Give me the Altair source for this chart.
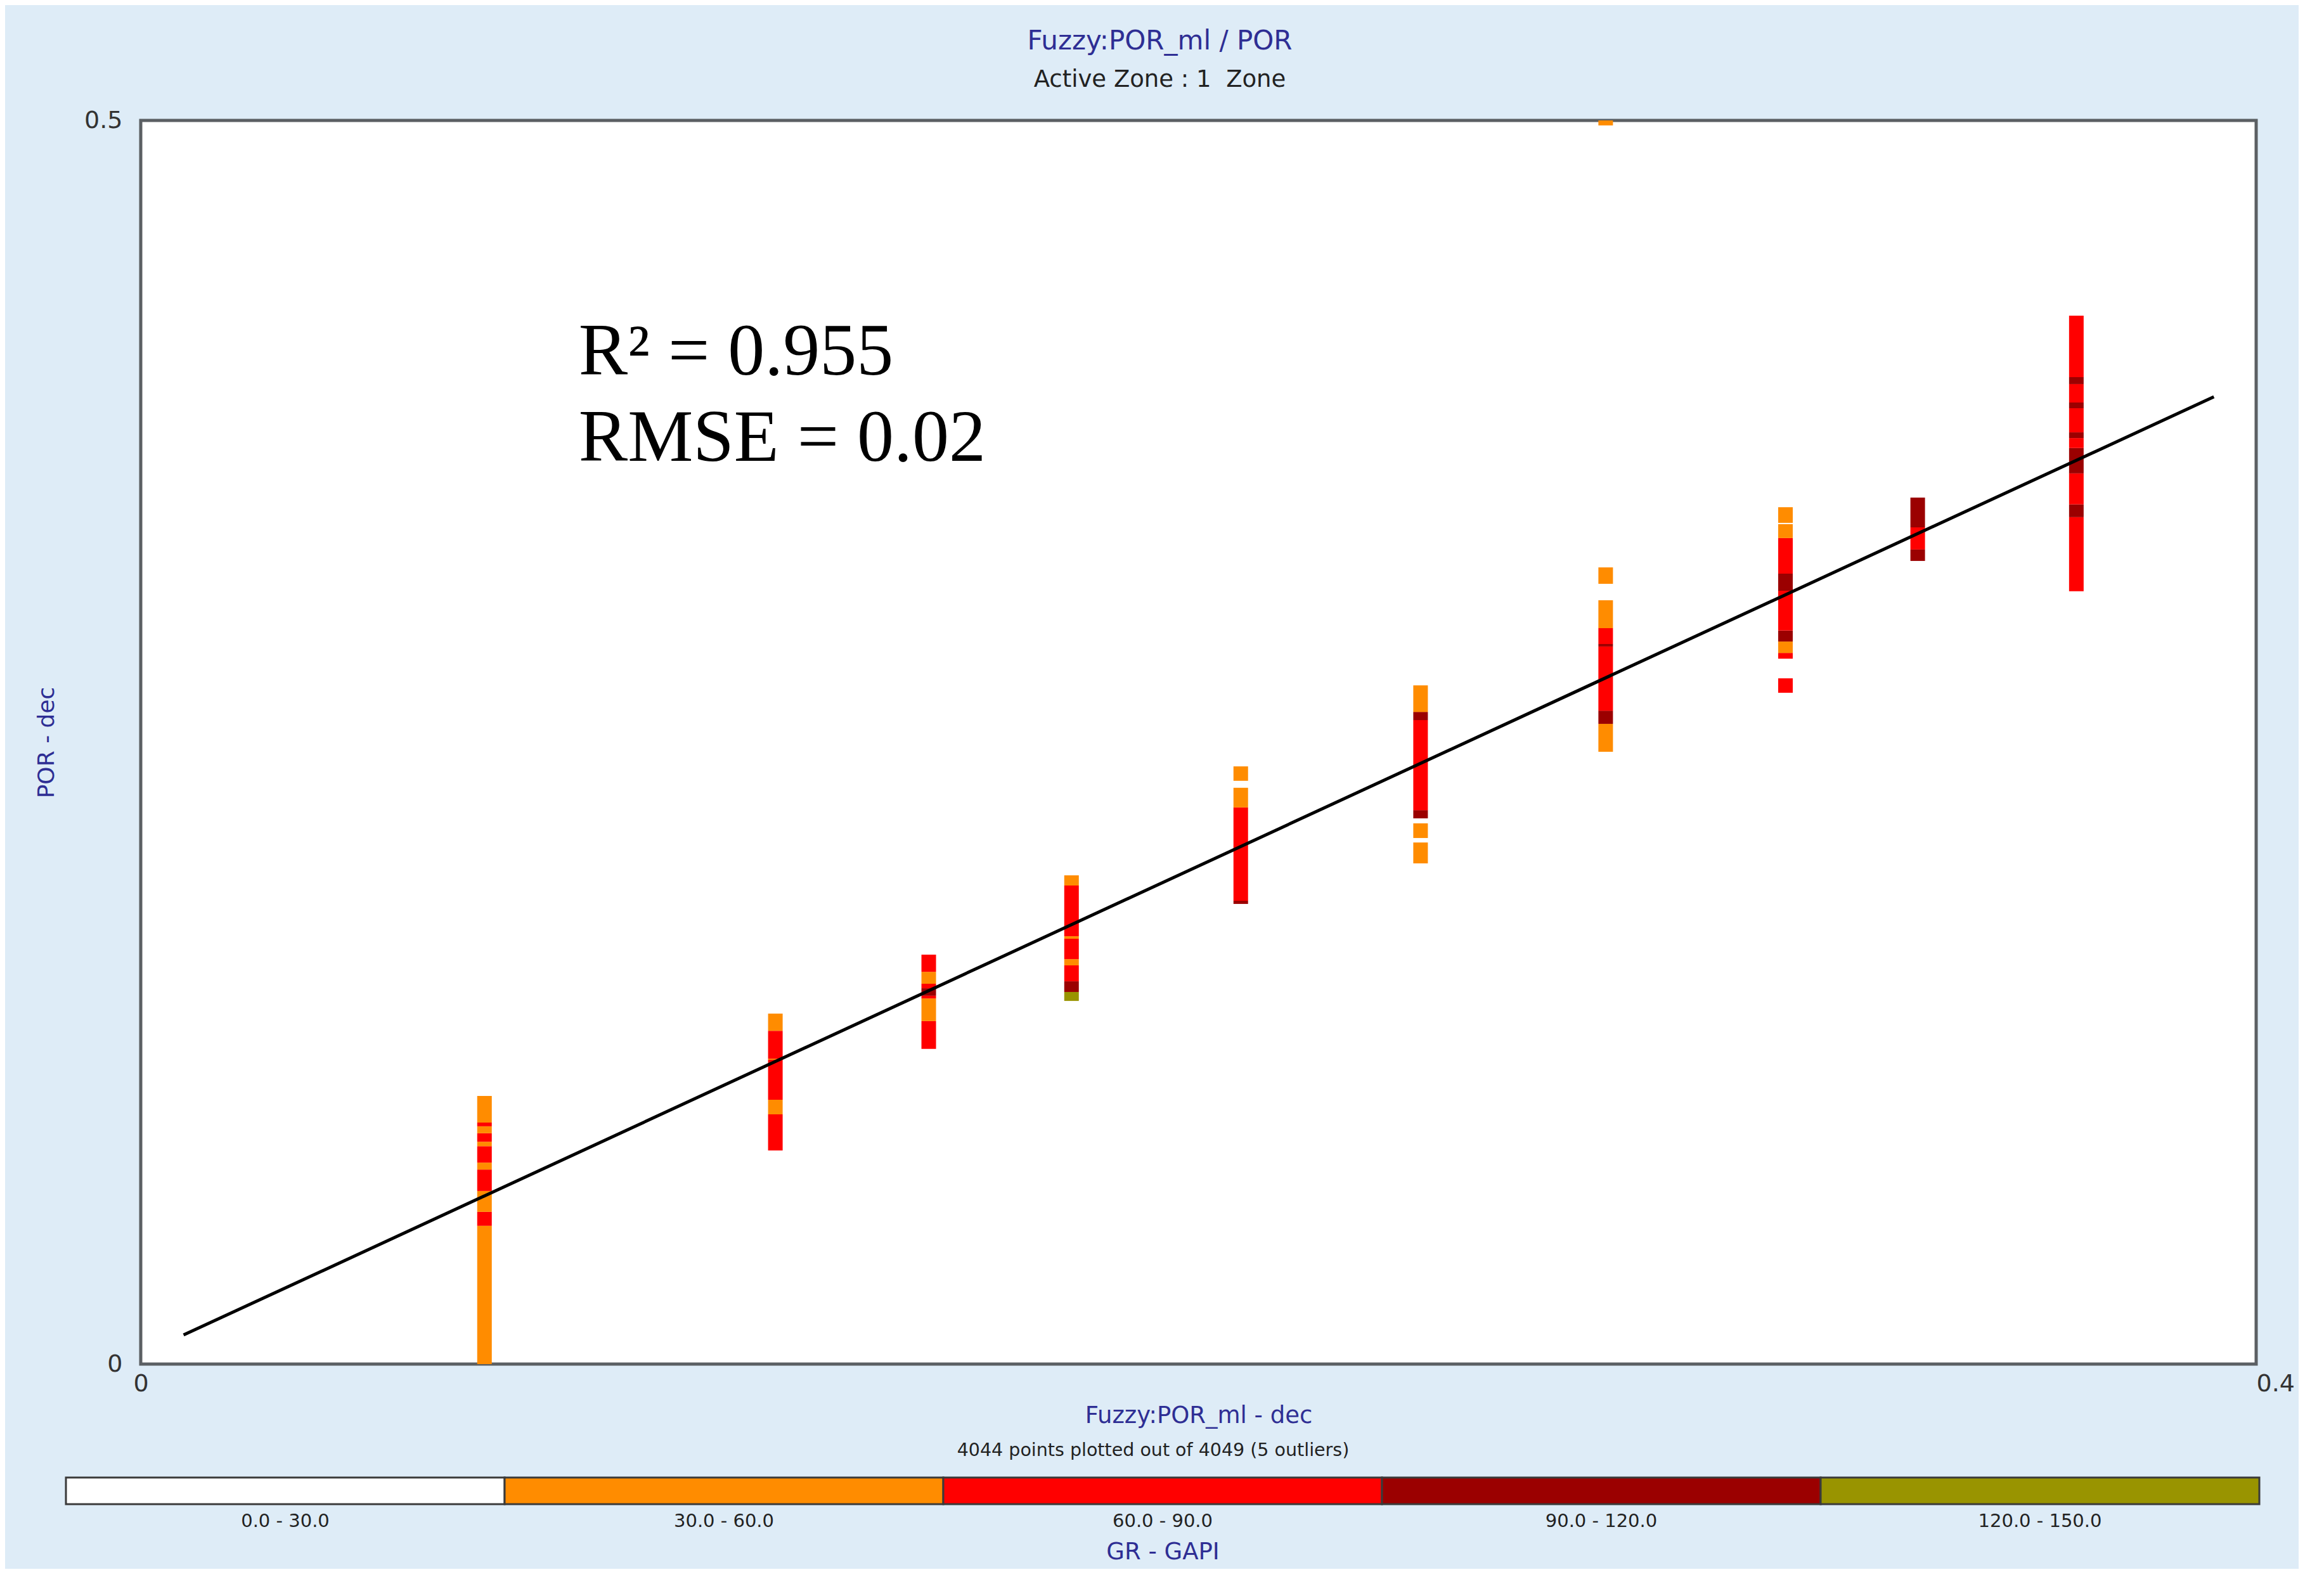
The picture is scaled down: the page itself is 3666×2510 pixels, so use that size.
import altair as alt
import pandas as pd

# ---- GR classes (colour legend) ----
gr_labels = ["0.0 - 30.0", "30.0 - 60.0", "60.0 - 90.0", "90.0 - 120.0", "120.0 - 150.0"]
gr_colors = ["#ffffff", "#ff8c00", "#ff0000", "#9b0000", "#999400"]
O, R, D, G = gr_labels[1], gr_labels[2], gr_labels[3], gr_labels[4]

# ---- x position (Fuzzy:POR_ml) of each column of points ----
col_x = [0.065, 0.120, 0.149, 0.176, 0.208, 0.242, 0.277, 0.311, 0.336, 0.366]

# ---- POR runs in each column: (low, high, GR class) ----
col1 = [(0.0, 0.0556, O), (0.0556, 0.0612, R), (0.0612, 0.0696, O), (0.0696, 0.0782, R),
        (0.0782, 0.0810, O), (0.0810, 0.0876, R), (0.0876, 0.0894, O), (0.0894, 0.0928, R),
        (0.0928, 0.0956, O), (0.0956, 0.0971, R), (0.0971, 0.1078, O)]
col2 = [(0.0859, 0.1004, R), (0.1004, 0.1063, O), (0.1063, 0.1223, R), (0.1223, 0.1228, O),
        (0.1228, 0.1340, R), (0.1340, 0.1409, O)]
col3 = [(0.1267, 0.1379, R), (0.1379, 0.1470, O), (0.1470, 0.1481, R), (0.1481, 0.1511, D),
        (0.1511, 0.1529, R), (0.1529, 0.1577, O), (0.1577, 0.1646, R)]
col4 = [(0.1460, 0.1496, G), (0.1496, 0.1539, D), (0.1539, 0.1603, R), (0.1603, 0.1628, O),
        (0.1628, 0.1710, R), (0.1710, 0.1720, O), (0.1720, 0.1924, R), (0.1924, 0.1965, O)]
col5 = [(0.1850, 0.1863, D), (0.1863, 0.2238, R), (0.2238, 0.2317, O), (0.2345, 0.2403, O)]
col6 = [(0.2013, 0.2097, O), (0.2115, 0.2174, O), (0.2194, 0.2227, D), (0.2227, 0.2589, R),
        (0.2589, 0.2622, D), (0.2622, 0.2729, O)]
col7 = [(0.2462, 0.2574, O), (0.2574, 0.2627, D), (0.2627, 0.2885, R), (0.2885, 0.2895, D),
        (0.2895, 0.2959, R), (0.2959, 0.3071, O), (0.3137, 0.3203, O), (0.4980, 0.5000, O)]
col8 = [(0.2699, 0.2757, R), (0.2836, 0.2859, R), (0.2859, 0.2905, O), (0.2905, 0.2949, D),
        (0.2949, 0.3109, R), (0.3109, 0.3178, D), (0.3178, 0.3321, R), (0.3321, 0.3377, O),
        (0.3382, 0.3445, O)]
col9 = [(0.3229, 0.3275, D), (0.3275, 0.3364, R), (0.3364, 0.3484, D)]
col10 = [(0.3107, 0.3405, R), (0.3405, 0.3456, D), (0.3456, 0.3581, R), (0.3581, 0.3683, D),
         (0.3683, 0.3723, R), (0.3723, 0.3746, D), (0.3746, 0.3843, R), (0.3843, 0.3866, D),
         (0.3866, 0.3940, R), (0.3940, 0.3968, D), (0.3968, 0.4215, R)]
columns = [col1, col2, col3, col4, col5, col6, col7, col8, col9, col10]

# ---- axis extents (plot frame) ----
frame_x = [0.0, 0.4]
frame_y = [0.0, 0.5]

# ---- fitted line end points ----
line_x = [0.0081, 0.3920]
line_y = [0.0117, 0.3889]

# ---- statistics annotation ----
ann_text = ["R\u00b2 = 0.955", "RMSE = 0.02"]
ann_x = [0.0828, 0.0828]
ann_y = [0.3978, 0.3631]

# ---- titles ----
title_main = "Fuzzy:POR_ml / POR"
title_sub = "Active Zone : 1\u00a0 Zone"
x_title = "Fuzzy:POR_ml - dec"
y_title = "POR - dec"
foot_text = "4044 points plotted out of 4049 (5 outliers)"
legend_title = "GR - GAPI"

rows = []
for cx, segs in zip(col_x, columns):
    for lo, hi, g in segs:
        rows.append({"x": cx, "lo": lo, "hi": hi, "gr": g})
seg_df = pd.DataFrame(rows)
frame_df = pd.DataFrame({"x": [frame_x[0]], "x2": [frame_x[1]], "y": [frame_y[0]], "y2": [frame_y[1]]})
line_df = pd.DataFrame({"x": line_x, "y": line_y})
ann_df = pd.DataFrame({"x": ann_x, "y": ann_y, "t": ann_text})
leg_df = pd.DataFrame({"gr": gr_labels})

navy = "#2e2e94"
font = "DejaVu Sans"
W = 3460          # common panel width (colour bar width)
LEFT = 113        # plot area starts this far right of the colour bar
color_scale = alt.Scale(domain=gr_labels, range=gr_colors)
xscale = alt.Scale(domain=frame_x, range=[LEFT, W], nice=False, zero=False)
yscale = alt.Scale(domain=frame_y, nice=False, zero=False)

x_axis = alt.Axis(
    title=x_title, values=frame_x, format="~g", grid=False, domain=False, ticks=False,
    labelFlush=False, labelFontSize=38, labelColor="#333333", labelPadding=12,
    labelAlign={"condition": {"test": "datum.value == 0", "value": "center"}, "value": "left"},
    titleFontSize=37, titleColor=navy, titleFontWeight="normal", titlePadding=13,
)
y_axis = alt.Axis(
    title=y_title, values=frame_y, format="~g", grid=False, domain=False, ticks=False,
    labelFontSize=38, labelColor="#333333", labelPadding=24, offset=-LEFT,
    titleFontSize=36, titleColor=navy, titleFontWeight="normal", titlePadding=40,
)

frame = alt.Chart(frame_df).mark_rect(fill="white", stroke="#5b5f63", strokeWidth=5).encode(
    x=alt.X("x:Q", scale=xscale, axis=x_axis),
    x2="x2:Q",
    y=alt.Y("y:Q", scale=yscale, axis=y_axis),
    y2="y2:Q",
)
bars = alt.Chart(seg_df).mark_bar(size=23, clip=True).encode(
    x=alt.X("x:Q", scale=xscale),
    y=alt.Y("lo:Q", scale=yscale),
    y2="hi:Q",
    color=alt.Color("gr:N", scale=color_scale, legend=None),
)
line = alt.Chart(line_df).mark_line(color="black", strokeWidth=5).encode(
    x=alt.X("x:Q", scale=xscale),
    y=alt.Y("y:Q", scale=yscale),
)
ann = alt.Chart(ann_df).mark_text(
    align="left", baseline="alphabetic", font="Liberation Serif", fontSize=116, color="black"
).encode(
    x=alt.X("x:Q", scale=xscale),
    y=alt.Y("y:Q", scale=yscale),
    text="t:N",
)

main = alt.layer(frame, bars, line, ann).properties(
    width=W, height=1962,
    view=alt.ViewBackground(stroke="transparent"),
)

cbar = alt.Chart(leg_df).mark_rect(stroke="#3a3a3a", strokeWidth=3).encode(
    x=alt.X(
        "gr:N", sort=gr_labels,
        scale=alt.Scale(domain=gr_labels, paddingInner=0, paddingOuter=0),
        axis=alt.Axis(
            title=legend_title, labelAngle=0, domain=False, ticks=False, labelFontSize=29,
            labelColor="#222222", labelPadding=12, labelLimit=0, titleFontSize=37,
            titleColor=navy, titleFontWeight="normal", titlePadding=16,
        ),
    ),
    color=alt.Color("gr:N", scale=color_scale, legend=None),
).properties(
    width=W, height=42,
    title=alt.TitleParams(foot_text, fontSize=28.5, fontWeight="normal", color="#222222",
                          anchor="middle", offset=27, dx=-15, font=font),
    view=alt.ViewBackground(stroke="transparent"),
)

chart = alt.vconcat(main, cbar, spacing=21).properties(
    title=alt.TitleParams(
        text=title_main, subtitle=title_sub, fontSize=42, color=navy, fontWeight="normal",
        subtitleFontSize=37, subtitleColor="#222222", subtitlePadding=21, anchor="middle",
        offset=26, dx=-8, font=font, subtitleFont=font,
    ),
    padding={"left": 47, "top": 35, "right": 6, "bottom": 8},
    background="#deecf7",
).configure(font=font)

chart.save("out.html", embed_options={"renderer": "svg", "actions": False})
